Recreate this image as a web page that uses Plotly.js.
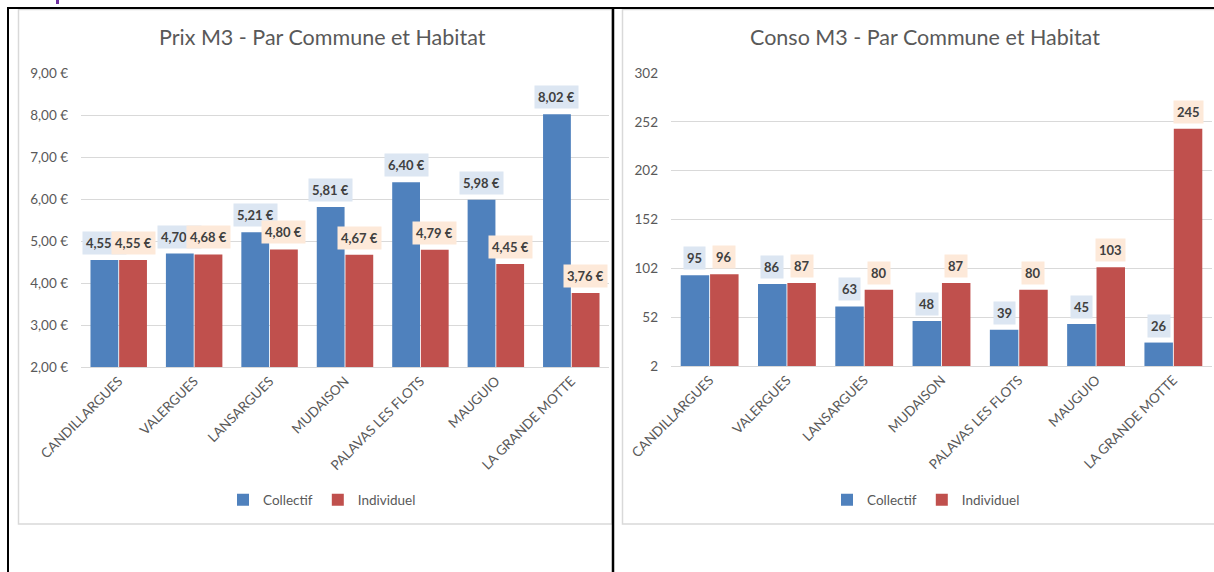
<!DOCTYPE html>
<html>
<head>
<meta charset="utf-8">
<script src="https://cdn.plot.ly/plotly-3.0.1.min.js"></script>
<style>html,body{margin:0;padding:0;background:#fff;}#chart{width:1214px;height:572px;}</style>
</head>
<body>
<div id="chart"></div>
<script>
const categories = ['CANDILLARGUES','VALERGUES','LANSARGUES','MUDAISON','PALAVAS LES FLOTS','MAUGUIO','LA GRANDE MOTTE'];
const prixCollectif = [4.55, 4.70, 5.21, 5.81, 6.40, 5.98, 8.02];
const prixIndividuel = [4.55, 4.68, 4.80, 4.67, 4.79, 4.45, 3.76];
const consoCollectif = [95, 86, 63, 48, 39, 45, 26];
const consoIndividuel = [96, 87, 80, 87, 80, 103, 245];
const seriesNames = ['Collectif', 'Individuel'];
const titles = ['Prix M3 - Par Commune et Habitat', 'Conso M3 - Par Commune et Habitat'];

const W = 1214, H = 572;
const px = x => x / W;
const py = y => 1 - y / H;
const FONT = 'Lato, "Open Sans", sans-serif';
const BLUE = '#4f81bd', RED = '#c0504d';
const BLUE_BG = '#dce6f2', RED_BG = '#fde9d9';
const GREY = '#595959';

const fmtEuro = v => v.toFixed(2).replace('.', ',') + ' €';
const fmtInt = v => String(v);

const traces = [
  {type:'bar', x:categories, y:prixCollectif, name:seriesNames[0], marker:{color:BLUE}, xaxis:'x', yaxis:'y', legend:'legend', hoverinfo:'skip'},
  {type:'bar', x:categories, y:prixIndividuel, name:seriesNames[1], marker:{color:RED}, xaxis:'x', yaxis:'y', legend:'legend', hoverinfo:'skip'},
  {type:'bar', x:categories, y:consoCollectif, name:seriesNames[0], marker:{color:BLUE}, xaxis:'x2', yaxis:'y2', legend:'legend2', hoverinfo:'skip'},
  {type:'bar', x:categories, y:consoIndividuel, name:seriesNames[1], marker:{color:RED}, xaxis:'x2', yaxis:'y2', legend:'legend2', hoverinfo:'skip'}
];

const annotations = [];
function addLabels(values, xref, yref, offset, bg, fmt) {
  values.forEach((v, i) => {
    annotations.push({
      x: i + offset, y: v, xref: xref, yref: yref,
      text: fmt(v), showarrow: false,
      xanchor: 'center', yanchor: 'bottom', yshift: 5,
      bgcolor: bg, borderpad: 3,
      font: {family: FONT, size: 13, color: '#404040', weight: 'bold'}
    });
  });
}
addLabels(prixCollectif, 'x', 'y', -0.19, BLUE_BG, fmtEuro);
addLabels(prixIndividuel, 'x', 'y', 0.19, RED_BG, fmtEuro);
addLabels(consoCollectif, 'x2', 'y2', -0.19, BLUE_BG, fmtInt);
addLabels(consoIndividuel, 'x2', 'y2', 0.19, RED_BG, fmtInt);

annotations.push({x: px(322), y: py(37), xref:'paper', yref:'paper', text: titles[0], showarrow:false, xanchor:'center', yanchor:'middle', font:{family:FONT, size:21.5, color:GREY}});
annotations.push({x: px(925), y: py(37), xref:'paper', yref:'paper', text: titles[1], showarrow:false, xanchor:'center', yanchor:'middle', font:{family:FONT, size:21.5, color:GREY}});

const shapes = [
  {type:'rect', xref:'paper', yref:'paper', x0:px(18.5), x1:px(612), y0:py(524), y1:py(9.5), line:{color:'#d9d9d9', width:1.5}, layer:'below'},
  {type:'rect', xref:'paper', yref:'paper', x0:px(622.5), x1:px(1216), y0:py(524), y1:py(9.5), line:{color:'#d9d9d9', width:1.5}, layer:'below'},
  {type:'line', xref:'paper', yref:'paper', x0:px(7), x1:px(1214), y0:py(8), y1:py(8), line:{color:'#000', width:2}},
  {type:'line', xref:'paper', yref:'paper', x0:px(8), x1:px(8), y0:py(7), y1:py(572), line:{color:'#000', width:2}},
  {type:'line', xref:'paper', yref:'paper', x0:px(613), x1:px(613), y0:py(7), y1:py(572), line:{color:'#000', width:2.5}},
  {type:'rect', xref:'paper', yref:'paper', x0:px(56), x1:px(59), y0:py(4), y1:py(0), line:{width:0}, fillcolor:'#7030a0'}
];

const xCommon = {type:'category', tickangle:-45, tickfont:{family:FONT, size:13.5, color:GREY}, showgrid:false, showline:true, linecolor:'#d9d9d9', linewidth:1, ticks:'', fixedrange:true};
const yCommon = {showgrid:true, gridcolor:'#d9d9d9', gridwidth:1, zeroline:false, showline:false, ticks:'', tickfont:{family:FONT, size:13.5, color:GREY}, ticklabelstandoff:12, fixedrange:true};
const legendCommon = {orientation:'h', xanchor:'center', yanchor:'middle', font:{family:FONT, size:13.5, color:GREY}, bgcolor:'rgba(0,0,0,0)', itemwidth:30, traceorder:'normal'};

const layout = {
  width: W, height: H,
  margin: {l:0, r:0, t:0, b:0},
  paper_bgcolor: '#fff', plot_bgcolor: '#fff',
  separators: ', ',
  barmode: 'group', bargap: 0.24, bargroupgap: 0.03,
  showlegend: true,
  xaxis: Object.assign({}, xCommon, {domain:[px(81), px(609)], anchor:'y'}),
  yaxis: Object.assign({}, yCommon, {domain:[py(367), py(73)], anchor:'x', range:[2, 9], tick0:2, dtick:1, tickformat:'.2f', ticksuffix:' €'}),
  xaxis2: Object.assign({}, xCommon, {domain:[px(671), px(1212)], anchor:'y2'}),
  yaxis2: Object.assign({}, yCommon, {domain:[py(366), py(73)], anchor:'x2', range:[2, 302], tick0:2, dtick:50}),
  legend: Object.assign({}, legendCommon, {x: px(322), y: py(500)}),
  legend2: Object.assign({}, legendCommon, {x: px(926), y: py(500)}),
  annotations: annotations,
  shapes: shapes,
  font: {family: FONT}
};

Plotly.newPlot('chart', traces, layout, {displayModeBar:false, staticPlot:true});
</script>
</body>
</html>
